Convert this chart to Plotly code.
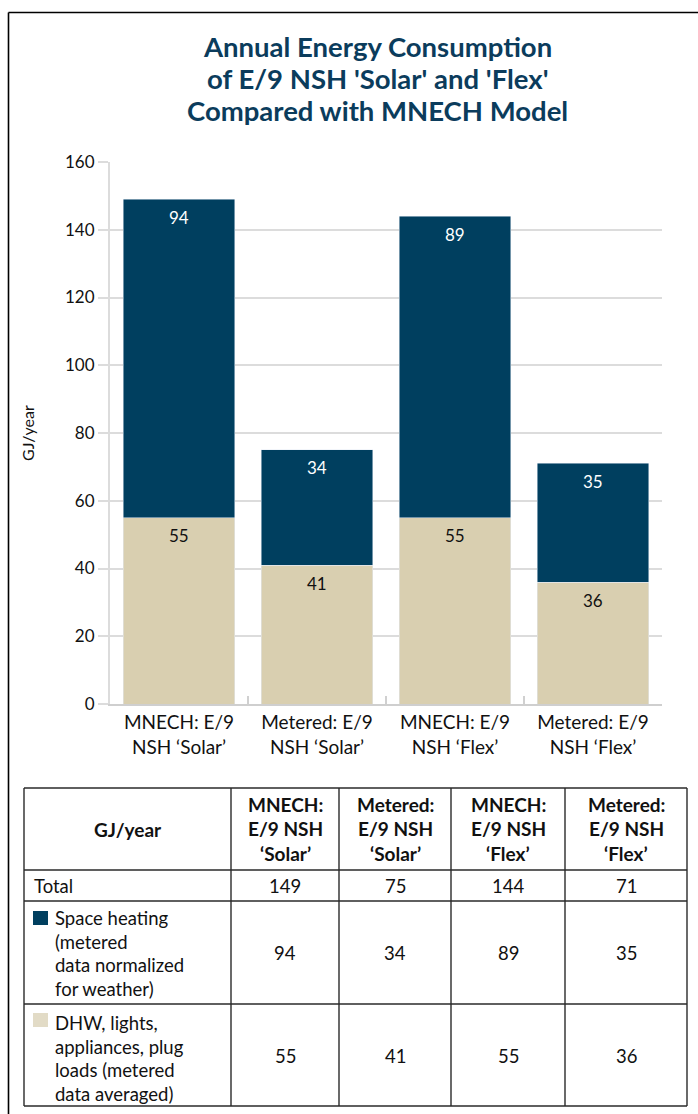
import plotly.graph_objects as go

# ---------------- data ----------------
categories = ["MNECH: E/9<br>NSH ‘Solar’", "Metered: E/9<br>NSH ‘Solar’",
              "MNECH: E/9<br>NSH ‘Flex’", "Metered: E/9<br>NSH ‘Flex’"]
dhw = [55, 41, 55, 36]
space_heating = [94, 34, 89, 35]
totals = [149, 75, 144, 71]

title_lines = ["Annual Energy Consumption", "of E/9 NSH 'Solar' and 'Flex'",
               "Compared with MNECH Model"]
y_title = "GJ/year"
y_ticks = [0, 20, 40, 60, 80, 100, 120, 140, 160]

table_corner = "GJ/year"
table_headers = [["MNECH:", "E/9 NSH", "‘Solar’"],
                 ["Metered:", "E/9 NSH", "‘Solar’"],
                 ["MNECH:", "E/9 NSH", "‘Flex’"],
                 ["Metered:", "E/9 NSH", "‘Flex’"]]
row_total_label = "Total"
row_space_label = ["Space heating", "(metered", "data normalized", "for weather)"]
row_dhw_label = ["DHW, lights,", "appliances, plug", "loads (metered", "data averaged)"]

# ---------------- styling ----------------
W, H = 698, 1114
NAVY = "#003f5f"
BEIGE = "#d9cfb0"
BEIGE_LIGHT = "#e2dbc6"
TITLE_C = "#0b3c5c"
GRID = "#dcdcdc"
FONT = "Lato"


def px(x):
    return x / W


def py(y):
    return 1 - y / H


def note(text, x, y, size, color="#111", xanchor="center", **kw):
    return dict(text=text, xref="paper", yref="paper", x=px(x), y=py(y),
                xanchor=xanchor, yanchor="middle", showarrow=False,
                font=dict(size=size, color=color, family=FONT), **kw)


fig = go.Figure()
fig.add_trace(go.Bar(x=categories, y=dhw, name="DHW", marker_color=BEIGE,
                     hoverinfo="skip"))
fig.add_trace(go.Bar(x=categories, y=space_heating, name="Space heating",
                     marker_color=NAVY, hoverinfo="skip"))

shapes = []
annotations = []

# value labels near the top of each segment (data coordinates)
for i, c in enumerate(categories):
    annotations.append(dict(text=str(dhw[i]), x=c, y=dhw[i], xref="x", yref="y",
                            yshift=-18, yanchor="middle", showarrow=False,
                            font=dict(size=17, color="#111", family=FONT)))
    annotations.append(dict(text=str(space_heating[i]), x=c, y=dhw[i] + space_heating[i],
                            xref="x", yref="y", yshift=-18, yanchor="middle",
                            showarrow=False, font=dict(size=17, color="white", family=FONT)))

# outer border (left + top)
shapes.append(dict(type="line", xref="paper", yref="paper", x0=px(8.5), x1=px(700),
                   y0=py(12.5), y1=py(12.5), line=dict(color="#000", width=1.6)))
shapes.append(dict(type="line", xref="paper", yref="paper", x0=px(8.5), x1=px(8.5),
                   y0=py(12.5), y1=py(1120), line=dict(color="#000", width=1.6)))

# title lines
for j, ln in enumerate(title_lines):
    annotations.append(note("<b>" + ln + "</b>", 377, 47 + 31.5 * j, 27.5, TITLE_C))

# y-axis title
annotations.append(note(y_title, 27, 433, 16, textangle=-90))

# ---------------- table ----------------
col_x = [24, 231, 339, 451, 565, 687]
row_y = [788, 870, 901, 1004, 1106]
LC = "#2a2a2a"
LW = 1.4
for x in col_x:
    shapes.append(dict(type="line", xref="paper", yref="paper", x0=px(x), x1=px(x),
                       y0=py(row_y[0]), y1=py(row_y[-1]), line=dict(color=LC, width=LW)))
for y in row_y:
    shapes.append(dict(type="line", xref="paper", yref="paper", x0=px(col_x[0]), x1=px(col_x[-1]),
                       y0=py(y), y1=py(y), line=dict(color=LC, width=LW)))

TF = 18.5
HF = 19
annotations.append(note("<b>" + table_corner + "</b>", (col_x[0] + col_x[1]) / 2, 829, HF))
for i, lines in enumerate(table_headers):
    cx = (col_x[i + 1] + col_x[i + 2]) / 2
    for j, ln in enumerate(lines):
        annotations.append(note("<b>" + ln + "</b>", cx, 804 + 24.5 * j, HF))
annotations.append(note(row_total_label, 32, 886, TF, xanchor="left"))
for lines, y0, sq_y, col in [(row_space_label, 918, 911, NAVY),
                              (row_dhw_label, 1023, 1013, BEIGE_LIGHT)]:
    shapes.append(dict(type="rect", xref="paper", yref="paper", x0=px(33), x1=px(48),
                       y0=py(sq_y), y1=py(sq_y + 14), fillcolor=col, line=dict(width=0)))
    for j, ln in enumerate(lines):
        annotations.append(note(ln, 53, y0 + 23.5 * j, TF, xanchor="left"))
for i in range(4):
    cx = (col_x[i + 1] + col_x[i + 2]) / 2
    for val, yc in [(totals[i], 886), (space_heating[i], 953), (dhw[i], 1056)]:
        annotations.append(note(str(val), cx, yc, TF))

fig.update_layout(
    width=W, height=H, autosize=False,
    margin=dict(l=0, r=0, t=0, b=0, pad=0),
    paper_bgcolor="white", plot_bgcolor="white",
    barmode="stack", bargap=0.19, showlegend=False,
    font=dict(family=FONT, size=16, color="#111"),
    shapes=shapes, annotations=annotations,
)
fig.update_xaxes(domain=[px(110), px(662)], showline=True, linecolor="#cfcfcf", linewidth=2,
                 ticks="inside", tickson="boundaries", ticklen=8, tickcolor="#d0d0d0",
                 tickwidth=2, showgrid=False, automargin=False,
                 tickfont=dict(size=19, color="#111", family=FONT))
fig.update_yaxes(domain=[py(704), py(162)], range=[0, 160], tickvals=y_ticks,
                 showline=True, linecolor=GRID, linewidth=2, showgrid=True, gridcolor=GRID,
                 gridwidth=2, zeroline=False, ticks="outside", ticklen=10, tickcolor=GRID,
                 tickwidth=2, automargin=False,
                 tickfont=dict(size=17, color="#111", family=FONT))

fig.write_html("out.html")
